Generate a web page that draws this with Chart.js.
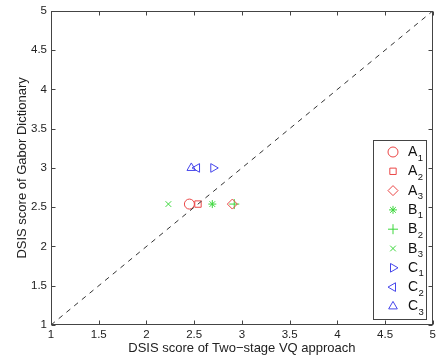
<!DOCTYPE html>
<html>
<head>
<meta charset="utf-8">
<script src="https://cdn.jsdelivr.net/npm/chart.js@4/dist/chart.umd.min.js"></script>
<style>
html,body{margin:0;padding:0;background:#fff;}
#wrap{width:439px;height:361px;position:relative;}
</style>
</head>
<body>
<div id="wrap"><canvas id="c" width="439" height="361"></canvas></div>
<script>
const seriesNames = ['A', 'A', 'A', 'B', 'B', 'B', 'C', 'C', 'C'];
const seriesSubs = ['1', '2', '3', '1', '2', '3', '1', '2', '3'];
const xValues = [2.45, 2.54, 2.90, 2.69, 2.92, 2.23, 2.70, 2.53, 2.47];
const yValues = [2.54, 2.54, 2.54, 2.54, 2.54, 2.54, 3.00, 3.00, 3.00];
const diagonal = [1, 5];
const tickValues = [1, 1.5, 2, 2.5, 3, 3.5, 4, 4.5, 5];
const xTitle = 'DSIS score of Two\u2212stage VQ approach';
const yTitle = 'DSIS score of Gabor Dictionary';

const RED = 'rgb(235,70,70)', GREEN = 'rgb(60,215,60)', BLUE = 'rgb(70,70,235)';
const styles = [
  {c: RED, s: 'circle', r: 5, rot: 0},
  {c: RED, s: 'rect', r: 4.5, rot: 0},
  {c: RED, s: 'rectRot', r: 5, rot: 0},
  {c: GREEN, s: 'star', r: 4, rot: 0},
  {c: GREEN, s: 'cross', r: 5, rot: 0},
  {c: GREEN, s: 'crossRot', r: 4, rot: 0},
  {c: BLUE, s: 'triangle', r: 5, rot: 90},
  {c: BLUE, s: 'triangle', r: 5, rot: -90},
  {c: BLUE, s: 'triangle', r: 5, rot: 0}
];

const datasets = seriesNames.map((n, i) => ({
  label: n + seriesSubs[i],
  data: [{x: xValues[i], y: yValues[i]}],
  showLine: false,
  pointStyle: styles[i].s,
  pointRadius: styles[i].r,
  pointRotation: styles[i].rot,
  pointBorderColor: styles[i].c,
  pointBackgroundColor: 'rgba(0,0,0,0)',
  borderColor: styles[i].c,
  backgroundColor: 'rgba(0,0,0,0)',
  pointBorderWidth: 1
}));
datasets.unshift({
  label: 'diag',
  data: diagonal.map(v => ({x: v, y: v})),
  showLine: true,
  borderColor: '#333',
  borderWidth: 1,
  borderDash: [5, 5],
  pointRadius: 0,
  fill: false
});

const framePlugin = {
  id: 'frame',
  afterDatasetsDraw(chart) {
    const ctx = chart.ctx, a = chart.chartArea;
    const xs = chart.scales.x, ys = chart.scales.y;
    ctx.save();
    ctx.strokeStyle = '#444';
    ctx.lineWidth = 1;
    const L = Math.round(a.left) + 0.5, R = Math.round(a.right) - 0.5;
    const T = Math.round(a.top) + 0.5, B = Math.round(a.bottom) - 0.5;
    ctx.strokeRect(L, T, R - L, B - T);
    const tl = 4;
    ctx.beginPath();
    tickValues.forEach(v => {
      const px = Math.round(xs.getPixelForValue(v)) + 0.5;
      ctx.moveTo(px, B); ctx.lineTo(px, B - tl);
      ctx.moveTo(px, T); ctx.lineTo(px, T + tl);
      const py = Math.round(ys.getPixelForValue(v)) + 0.5;
      ctx.moveTo(L, py); ctx.lineTo(L + tl, py);
      ctx.moveTo(R, py); ctx.lineTo(R - tl, py);
    });
    ctx.stroke();

    // legend box
    const lx = 373.5, ly = 140.5, lw = 53, lh = 179;
    ctx.fillStyle = '#fff';
    ctx.fillRect(lx, ly, lw, lh);
    ctx.strokeStyle = '#444';
    ctx.strokeRect(lx, ly, lw, lh);
    for (let i = 0; i < seriesNames.length; i++) {
      const cy = 152 + i * 19.3;
      const st = styles[i];
      ctx.strokeStyle = st.c;
      ctx.fillStyle = 'rgba(0,0,0,0)';
      ctx.lineWidth = 1;
      Chart.helpers.drawPoint(ctx, {pointStyle: st.s, radius: st.r, rotation: st.rot, borderWidth: 1}, 393, cy);
      ctx.fillStyle = '#111';
      ctx.textBaseline = 'alphabetic';
      ctx.textAlign = 'left';
      ctx.font = '14px "Liberation Sans", Arial, sans-serif';
      ctx.fillText(seriesNames[i], 408, cy + 4);
      const w = ctx.measureText(seriesNames[i]).width;
      ctx.font = '9.5px "Liberation Sans", Arial, sans-serif';
      ctx.fillText(seriesSubs[i], 408 + w + 0.5, cy + 8.5);
    }
    ctx.restore();
  }
};

Chart.defaults.font.family = '"Liberation Sans", Arial, sans-serif';
Chart.defaults.color = '#222';

new Chart(document.getElementById('c'), {
  type: 'scatter',
  data: {datasets},
  options: {
    responsive: false,
    animation: false,
    events: [],
    layout: {padding: {top: 10, right: 2, left: 0, bottom: 0}},
    plugins: {legend: {display: false}, tooltip: {enabled: false}},
    scales: {
      x: {
        type: 'linear', min: 1, max: 5,
        afterFit: s => { s.height = 36; },
        afterBuildTicks: s => { s.ticks = tickValues.map(v => ({value: v})); },
        grid: {display: false, drawTicks: false},
        border: {display: false},
        ticks: {padding: 3, font: {size: 11.5}, color: '#222', maxRotation: 0, autoSkip: false, callback: v => String(v)},
        title: {display: true, text: xTitle, font: {size: 13}, color: '#222', padding: {top: 0, bottom: 5}}
      },
      y: {
        type: 'linear', min: 1, max: 5,
        afterFit: s => { s.width = 51; },
        afterBuildTicks: s => { s.ticks = tickValues.map(v => ({value: v})); },
        grid: {display: false, drawTicks: false},
        border: {display: false},
        ticks: {padding: 4, font: {size: 11.5}, color: '#222', autoSkip: false, callback: v => String(v)},
        title: {display: true, text: yTitle, font: {size: 13}, color: '#222', padding: {top: 15, bottom: 0}}
      }
    }
  },
  plugins: [framePlugin]
});
</script>
</body>
</html>
